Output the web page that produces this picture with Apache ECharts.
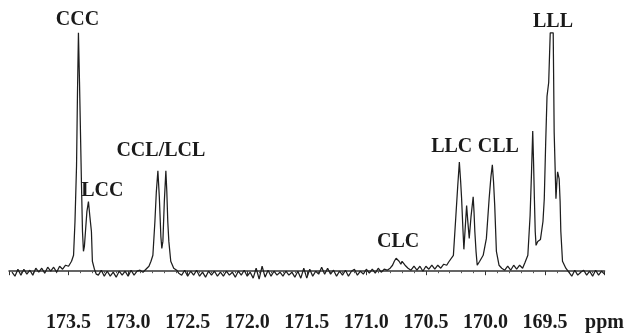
<!DOCTYPE html>
<html>
<head>
<meta charset="utf-8">
<script src="https://cdn.jsdelivr.net/npm/echarts@6/dist/echarts.min.js"></script>
<style>
html,body{margin:0;padding:0;background:#fff;}
#chart{width:627px;height:333px;}
</style>
</head>
<body>
<div id="chart"></div>
<script>
// chemical shift (ppm) of each trace point
const ppm = [
 173.975,173.950,173.925,173.900,173.875,173.850,173.825,173.800,173.775,173.750,
 173.725,173.700,173.675,173.650,173.625,173.600,173.575,173.550,173.525,173.500,
 173.475,173.458,173.446,173.433,173.425,173.417,173.408,173.400,173.392,173.383,
 173.375,173.367,173.358,173.346,173.333,173.321,173.308,173.300,173.283,173.267,
 173.250,173.225,173.200,173.175,173.150,173.125,173.100,173.075,173.050,173.025,
 173.000,172.975,172.950,172.925,172.900,172.875,
 172.867,172.842,172.825,172.808,172.792,172.775,172.763,172.750,172.738,172.725,
 172.717,172.708,172.696,172.683,172.675,172.667,172.658,172.642,172.617,172.592,172.575,
 172.550,172.525,172.500,172.475,172.450,172.425,172.400,172.375,172.350,172.325,
 172.300,172.275,172.250,172.225,172.200,172.175,172.150,172.125,172.100,172.075,
 172.050,172.025,172.000,171.975,171.950,171.925,171.900,171.875,171.850,171.825,
 171.800,171.775,171.750,171.725,171.700,171.675,171.650,171.625,171.600,171.575,
 171.550,171.525,171.500,171.475,171.450,171.425,171.400,171.375,171.350,171.325,
 171.300,171.275,171.250,171.225,171.200,171.175,171.150,171.125,171.100,171.075,
 171.050,171.025,171.000,170.975,170.950,170.925,170.900,170.875,170.850,170.825,
 170.800,170.780,170.765,170.750,170.740,170.725,170.710,170.700,170.675,170.650,
 170.625,170.600,170.575,170.550,170.525,170.500,170.475,170.450,170.425,170.400,
 170.375,170.350,170.325,170.310,
 170.269,170.248,170.233,170.219,170.208,170.200,170.190,170.181,170.169,170.158,
 170.148,170.136,170.121,170.103,170.096,170.089,170.079,170.069,170.048,170.019,
 169.992,169.969,169.954,169.942,169.932,169.922,169.908,169.886,169.863,169.838,
 169.813,169.788,169.763,169.738,169.713,169.688,169.667,169.644,169.625,169.613,
 169.603,169.596,169.589,169.582,169.575,169.561,169.548,169.538,169.525,169.517,
 169.506,169.494,169.483,169.469,169.456,169.431,169.423,169.408,169.400,169.394,
 169.381,169.373,169.367,169.353,169.325,169.300,169.275,169.250,169.225,169.200,
 169.175,169.150,169.125,169.100,169.075,169.050,169.025,169.000
];
// signal intensity (arbitrary units) at each point
const intensity = [
 -1,-5,2,-4,2,-3,1,-4,3,-1,
 3,-2,4,0,4,-1,5,2,6,5,
 10,16,50,106,180,240,190,140,90,40,
 20,25,40,60,70,55,40,10,2,-3,
 -4,1,-5,0,-5,-1,-6,0,-4,0,
 -5,1,-4,0,1,-1,
 1,3,5,10,16,50,80,101,75,35,
 23,30,70,101,80,50,30,10,3,1,-2,
 -4,1,-5,0,-4,1,-5,-1,-6,0,
 -4,0,-5,-1,-5,0,-4,-1,-6,0,
 -4,1,-5,-1,-7,3,-8,5,-6,1,
 -5,0,-4,-1,-5,0,-4,-1,-6,0,
 -7,3,-7,2,-5,0,-3,4,-3,3,
 -3,1,-5,0,-4,1,-5,0,2,-4,
 0,-3,2,-2,2,-2,3,-1,2,1,
 3,6,10,13,14,10,7,10,6,3,
 1,5,1,5,0,5,2,6,2,6,
 3,7,6,9,
 16,56,85,110,90,73,45,22,45,66,
 50,33,55,75,60,40,20,6,10,16,
 33,73,95,107,90,66,20,6,3,1,
 5,1,6,2,6,3,9,16,56,100,
 141,110,73,40,26,30,28,32,33,50,
 73,130,176,190,240,240,140,73,90,100,
 93,70,40,10,3,-1,-5,1,-4,-1,
 1,-4,0,-5,1,-4,0,-3
];
// peak assignment labels and where they sit
const peakNames = ['CCC','LCC','CCL/LCL','CLC','LLC','CLL','LLL'];
const peakPpm   = [173.425,173.217,172.725,170.733,170.283,169.892,169.433];
const peakLevel = [253,81,121,30,125,125,251];
// axis tick labels
const tickValues = [173.5,173.0,172.5,172.0,171.5,171.0,170.5,170.0,169.5];
const unitLabel = 'ppm';

const chart = echarts.init(document.getElementById('chart'), null, {renderer:'canvas'});
const fontFam = '"Liberation Serif", "DejaVu Serif", serif';
chart.setOption({
  backgroundColor:'#ffffff',
  animation:false,
  grid:{left:9,right:18,top:0,bottom:30},
  xAxis:{
    type:'value', inverse:true, min:169, max:174, interval:0.5,
    axisLine:{show:true,lineStyle:{color:'#333',width:1.5}},
    axisTick:{show:true,length:4,lineStyle:{color:'#333',width:1}},
    minorTick:{show:true,splitNumber:5,length:2,lineStyle:{color:'#555',width:1}},
    splitLine:{show:false},
    axisLabel:{
      margin:12, color:'#1a1a1a', fontSize:20, fontWeight:'bold', fontFamily:fontFam,
      formatter:function(v){
        if (Math.abs(v-169)<1e-6) return unitLabel;
        for (const t of tickValues){ if (Math.abs(v-t)<1e-6) return t.toFixed(1); }
        return '';
      }
    }
  },
  yAxis:{type:'value',min:-30,max:273,show:false},
  series:[
    {
      type:'line',
      data:ppm.map((p,i)=>[p,intensity[i]]),
      showSymbol:false,
      symbol:'none',
      lineStyle:{color:'#1e1e1e',width:1.25},
      silent:true
    },
    {
      type:'scatter',
      symbolSize:1,
      itemStyle:{color:'rgba(0,0,0,0)',opacity:1},
      data:peakNames.map((n,i)=>({name:n,value:[peakPpm[i],peakLevel[i]]})),
      label:{
        show:true, position:'inside', formatter:'{b}',
        color:'#1a1a1a', fontSize:20, fontWeight:'bold', fontFamily:fontFam,
        textBorderWidth:0
      },
      silent:true
    }
  ]
});
</script>
</body>
</html>
